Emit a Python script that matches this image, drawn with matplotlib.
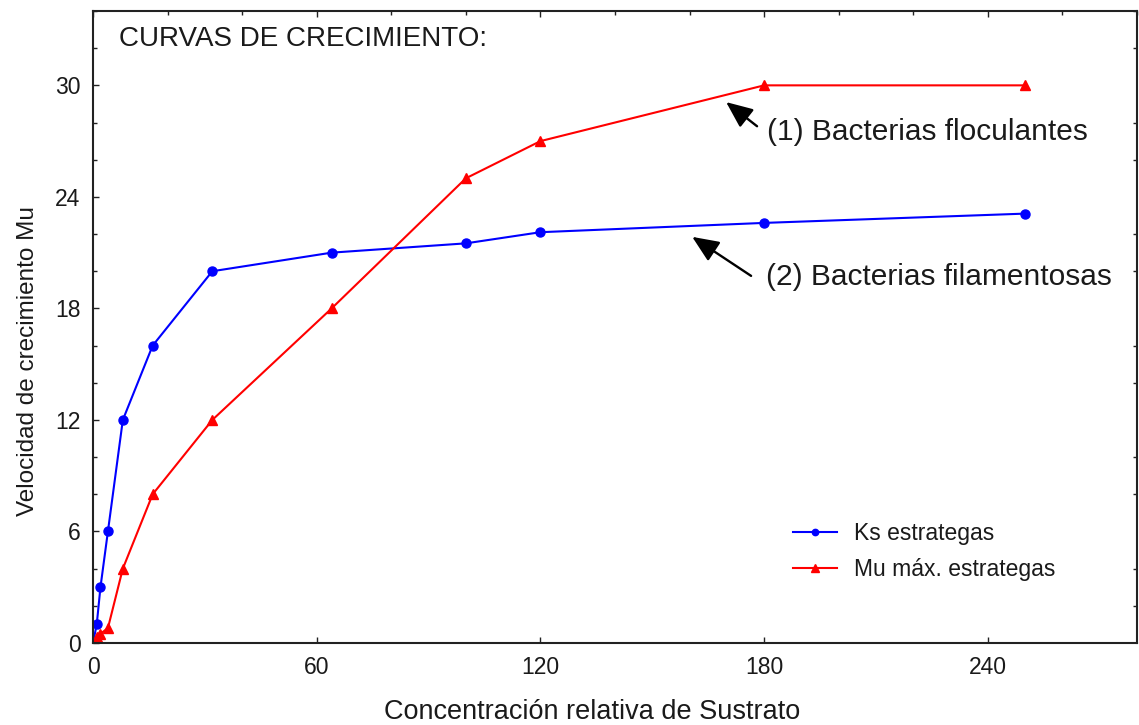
import matplotlib
matplotlib.use("Agg")
import matplotlib.pyplot as plt
from matplotlib.ticker import MultipleLocator

# data
concentracion = [0, 1, 2, 4, 8, 16, 32, 64, 100, 120, 180, 250]
ks_estrategas = [0, 1, 3, 6, 12, 16, 20, 21, 21.5, 22.1, 22.6, 23.1]
mu_max_estrategas = [0, 0.3, 0.5, 0.8, 4, 8, 12, 18, 25, 27, 30, 30]

x_ticks = [0, 60, 120, 180, 240]
y_ticks = [0, 6, 12, 18, 24, 30]

font = ["Liberation Sans", "DejaVu Sans"]
text_color = "#1a1a1a"


def draw_chart(png_name):
    fig = plt.figure(figsize=(11.39, 7.25), dpi=100)
    ax = fig.add_axes([93 / 1139, 82 / 725, 1044 / 1139, 632 / 725])

    ax.plot(concentracion, ks_estrategas, color="#0000ff", lw=1.5,
            marker="o", markersize=6.5, label="Ks estrategas")
    ax.plot(concentracion, mu_max_estrategas, color="#ff0000", lw=1.5,
            marker="^", markersize=7.5, label="Mu máx. estrategas")

    ax.set_xlim(0, 280)
    ax.set_ylim(0, 34)
    ax.set_xticks(x_ticks)
    ax.set_yticks(y_ticks)
    ax.xaxis.set_minor_locator(MultipleLocator(20))
    ax.yaxis.set_minor_locator(MultipleLocator(2))
    ax.tick_params(which="both", direction="in", top=True, right=True,
                   width=1, color="#222222", labelsize=16.5, labelcolor=text_color, pad=9)
    ax.tick_params(which="major", length=4)
    ax.tick_params(which="minor", length=3)
    ax.tick_params(axis="x", which="minor", bottom=False, top=True)
    ax.tick_params(axis="y", which="major", right=False)
    for lab in ax.get_xticklabels() + ax.get_yticklabels():
        lab.set_family(font)

    for spine in ax.spines.values():
        spine.set_linewidth(1.5)
        spine.set_color("#222222")

    ax.set_xlabel("Concentración relativa de Sustrato", family=font,
                  fontsize=19.5, color=text_color, va="center")
    ax.xaxis.set_label_coords(0.478, -0.109)
    ax.set_ylabel("Velocidad de crecimiento Mu", family=font,
                  fontsize=17.5, color=text_color, va="center")
    ax.yaxis.set_label_coords(-0.062, 0.446)

    ax.text(7, 32.5, "CURVAS DE CRECIMIENTO:", family=font, fontsize=20,
            color=text_color, va="center")

    arrow = dict(arrowstyle="-|>,head_length=0.65,head_width=0.28",
                 color="black", lw=1.7, mutation_scale=25, shrinkA=0, shrinkB=0)
    ax.annotate("", xy=(169.8, 29.1), xytext=(178.1, 27.8), arrowprops=arrow)
    ax.annotate("", xy=(160.7, 21.85), xytext=(176.5, 19.75), arrowprops=arrow)
    ax.text(180.8, 27.5, "(1) Bacterias floculantes", family=font,
            fontsize=21.5, color=text_color, va="center")
    ax.text(180.5, 19.7, "(2) Bacterias filamentosas", family=font,
            fontsize=21.5, color=text_color, va="center")

    leg = ax.legend(loc="upper left", bbox_to_anchor=(793 / 1139, 1 - 522 / 725),
                    bbox_transform=fig.transFigure, frameon=False, borderpad=0,
                    borderaxespad=0, handlelength=1.9, handletextpad=0.75,
                    labelspacing=0.58, markerscale=0.7,
                    prop={"family": font, "size": 16.5})
    for t in leg.get_texts():
        t.set_color(text_color)

    fig.savefig(png_name, dpi=100)


if __name__ == "__main__":
    draw_chart("out.png")
